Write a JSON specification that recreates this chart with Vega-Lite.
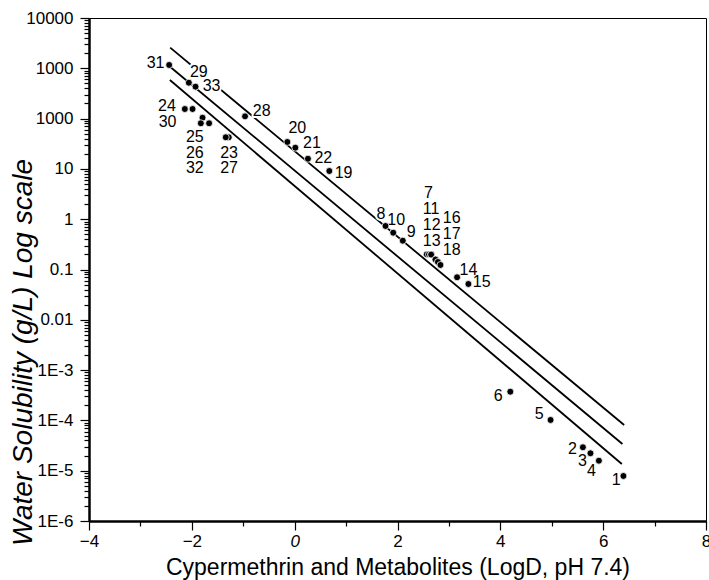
{
  "$schema": "https://vega.github.io/schema/vega-lite/v6.json",
  "width": 617,
  "height": 503,
  "autosize": {"type": "none"},
  "padding": {"left": 89, "top": 18, "right": 3, "bottom": 59},
  "background": "white",
  "config": {
    "view": {"stroke": "black", "strokeWidth": 1},
    "font": "Liberation Sans",
    "axis": {"grid": false}
  },
  "datasets": {
    "lines": [
      {"band": "upper", "x": -2.421, "y": 2570},
      {"band": "upper", "x": 6.408, "y": 0.000081},
      {"band": "middle", "x": -2.447, "y": 1127},
      {"band": "middle", "x": 6.375, "y": 0.000034},
      {"band": "lower", "x": -2.427, "y": 585},
      {"band": "lower", "x": 6.363, "y": 0.0000136}
    ],
    "points": [
      {"id": "1", "x": 6.394, "y": 0.00000785},
      {"id": "2", "x": 5.606, "y": 0.0000292},
      {"id": "3", "x": 5.753, "y": 0.0000222},
      {"id": "4", "x": 5.917, "y": 0.0000158},
      {"id": "5", "x": 4.977, "y": 0.000102},
      {"id": "6", "x": 4.194, "y": 0.000372},
      {"id": "7", "x": 2.569, "y": 0.2},
      {"id": "11", "x": 2.612, "y": 0.2},
      {"id": "12", "x": 2.654, "y": 0.2},
      {"id": "13", "x": 2.654, "y": 0.198},
      {"id": "16", "x": 2.738, "y": 0.158},
      {"id": "17", "x": 2.786, "y": 0.141},
      {"id": "18", "x": 2.835, "y": 0.123},
      {"id": "8", "x": 1.767, "y": 0.733},
      {"id": "10", "x": 1.917, "y": 0.539},
      {"id": "9", "x": 2.103, "y": 0.374},
      {"id": "14", "x": 3.159, "y": 0.07},
      {"id": "15", "x": 3.379, "y": 0.0515},
      {"id": "19", "x": 0.674, "y": 9.08},
      {"id": "20", "x": -0.142, "y": 34.3},
      {"id": "21", "x": 0.013, "y": 26.4},
      {"id": "22", "x": 0.258, "y": 15.9},
      {"id": "27", "x": -1.282, "y": 42.5},
      {"id": "23", "x": -1.34, "y": 42.5},
      {"id": "24", "x": -2.136, "y": 155},
      {"id": "30", "x": -1.986, "y": 155},
      {"id": "25", "x": -1.792, "y": 104},
      {"id": "26", "x": -1.825, "y": 80.7},
      {"id": "32", "x": -1.664, "y": 80.7},
      {"id": "28", "x": -0.965, "y": 111},
      {"id": "29", "x": -2.058, "y": 517},
      {"id": "33", "x": -1.928, "y": 431},
      {"id": "31", "x": -2.441, "y": 1164}
    ],
    "labels": [
      {"id": "31", "lx": -2.705, "ly": 1291},
      {"id": "29", "lx": -1.864, "ly": 855},
      {"id": "33", "lx": -1.617, "ly": 451},
      {"id": "24", "lx": -2.485, "ly": 178},
      {"id": "30", "lx": -2.472, "ly": 86.7},
      {"id": "25", "lx": -1.942, "ly": 43.7},
      {"id": "26", "lx": -1.942, "ly": 21.0},
      {"id": "32", "lx": -1.942, "ly": 10.6},
      {"id": "23", "lx": -1.276, "ly": 21.0},
      {"id": "27", "lx": -1.276, "ly": 10.6},
      {"id": "28", "lx": -0.641, "ly": 141.6},
      {"id": "20", "lx": 0.052, "ly": 65.9},
      {"id": "21", "lx": 0.336, "ly": 33.2},
      {"id": "22", "lx": 0.557, "ly": 16.7},
      {"id": "19", "lx": 0.951, "ly": 8.4},
      {"id": "7", "lx": 2.602, "ly": 3.37},
      {"id": "11", "lx": 2.654, "ly": 1.57},
      {"id": "12", "lx": 2.666, "ly": 0.767},
      {"id": "13", "lx": 2.666, "ly": 0.369},
      {"id": "16", "lx": 3.054, "ly": 1.06},
      {"id": "17", "lx": 3.054, "ly": 0.515},
      {"id": "18", "lx": 3.054, "ly": 0.248},
      {"id": "8", "lx": 1.676, "ly": 1.25},
      {"id": "10", "lx": 1.975, "ly": 0.964},
      {"id": "9", "lx": 2.266, "ly": 0.564},
      {"id": "14", "lx": 3.379, "ly": 0.0977},
      {"id": "15", "lx": 3.637, "ly": 0.0557},
      {"id": "6", "lx": 3.961, "ly": 0.000305},
      {"id": "5", "lx": 4.757, "ly": 0.000132},
      {"id": "2", "lx": 5.404, "ly": 0.000027},
      {"id": "3", "lx": 5.598, "ly": 0.0000158},
      {"id": "4", "lx": 5.773, "ly": 0.00001},
      {"id": "1", "lx": 6.252, "ly": 0.00000653}
    ]
  },
  "resolve": {"axis": {"x": "independent", "y": "independent"}},
  "layer": [
    {
      "data": {"name": "lines"},
      "mark": {"type": "line", "color": "black", "strokeWidth": 1.8},
      "encoding": {
        "x": {"field": "x", "type": "quantitative", "scale": {"domain": [-4, 8], "nice": false, "zero": false}, "axis": null},
        "y": {"field": "y", "type": "quantitative", "scale": {"type": "log", "domain": [0.000001, 10000], "nice": false}, "axis": null},
        "detail": {"field": "band", "type": "nominal"}
      }
    },
    {
      "data": {"name": "labels"},
      "mark": {"type": "text", "font": "Liberation Sans", "fontSize": 16, "align": "center", "baseline": "middle", "fill": "white", "stroke": "white", "strokeWidth": 4},
      "encoding": {
        "x": {"field": "lx", "type": "quantitative", "scale": {"domain": [-4, 8], "nice": false, "zero": false}, "axis": null},
        "y": {"field": "ly", "type": "quantitative", "scale": {"type": "log", "domain": [0.000001, 10000], "nice": false}, "axis": null},
        "text": {"field": "id", "type": "nominal"}
      }
    },
    {
      "data": {"name": "labels"},
      "mark": {"type": "text", "font": "Liberation Sans", "fontSize": 16, "align": "center", "baseline": "middle", "color": "black"},
      "encoding": {
        "x": {"field": "lx", "type": "quantitative", "scale": {"domain": [-4, 8], "nice": false, "zero": false}, "axis": null},
        "y": {"field": "ly", "type": "quantitative", "scale": {"type": "log", "domain": [0.000001, 10000], "nice": false}, "axis": null},
        "text": {"field": "id", "type": "nominal"}
      }
    },
    {
      "data": {"name": "points"},
      "mark": {"type": "circle", "size": 48, "fill": "black", "stroke": "white", "strokeWidth": 0.8, "opacity": 1},
      "encoding": {
        "x": {
          "field": "x", "type": "quantitative",
          "scale": {"domain": [-4, 8], "nice": false, "zero": false},
          "axis": {
            "orient": "bottom", "values": [-4, -3, -2, -1, 0, 1, 2, 3, 4, 5, 6, 7, 8],
            "labelExpr": "datum.value % 2 == 0 ? datum.label : ''",
            "labelFlush": false, "labelOverlap": false, "labelBound": false,
            "labelFont": "Liberation Sans", "labelFontSize": 17, "labelColor": "black", "labelPadding": 3,
            "labelFontStyle": {"condition": {"test": "datum.value == 0", "value": "italic"}, "value": "normal"},
            "tickSize": {"condition": {"test": "datum.value % 2 == 0", "value": 9}, "value": 5},
            "tickColor": "black", "tickWidth": 1.2,
            "domainColor": "black", "domainWidth": 2.5,
            "title": "Cypermethrin and Metabolites (LogD, pH 7.4)",
            "titleFont": "Liberation Sans", "titleFontSize": 23, "titleFontWeight": "normal", "titleColor": "black",
            "titleBaseline": "middle", "titleY": 46, "grid": false
          }
        },
        "y": {
          "field": "y", "type": "quantitative",
          "scale": {"type": "log", "domain": [0.000001, 10000], "nice": false},
          "axis": {
            "orient": "left",
            "values": [0.000001,0.000002,0.000003,0.000004,0.000005,0.000006,0.000007,0.000008,0.000009,0.00001,0.00002,0.00003,0.00004,0.00005,0.00006,0.00007,0.00008,0.00009,0.0001,0.0002,0.0003,0.0004,0.0005,0.0006,0.0007,0.0008,0.0009,0.001,0.002,0.003,0.004,0.005,0.006,0.007,0.008,0.009,0.01,0.02,0.03,0.04,0.05,0.06,0.07,0.08,0.09,0.1,0.2,0.3,0.4,0.5,0.6,0.7,0.8,0.9,1,2,3,4,5,6,7,8,9,10,20,30,40,50,60,70,80,90,100,200,300,400,500,600,700,800,900,1000,2000,3000,4000,5000,6000,7000,8000,9000,10000],
            "labelExpr": "abs(log(datum.value) / LN10 - round(log(datum.value) / LN10)) > 0.001 ? '' : (datum.value >= 0.01 ? (abs(datum.value - 100) < 1 ? '1000' : format(datum.value, '~g')) : '1E' + round(log(datum.value) / LN10))",
            "labelOverlap": false, "labelBound": false, "labelFlush": false,
            "labelFont": "Liberation Sans", "labelFontSize": 17, "labelColor": "black", "labelPadding": 7,
            "tickSize": {"condition": {"test": "abs(log(datum.value) / LN10 - round(log(datum.value) / LN10)) < 0.001", "value": 9}, "value": 5},
            "tickColor": "black", "tickWidth": 1.2,
            "domainColor": "black", "domainWidth": 2.5,
            "title": "Water Solubility (g/L) Log scale",
            "titleFont": "Liberation Sans", "titleFontSize": 28, "titleFontStyle": "italic", "titleFontWeight": "normal", "titleColor": "black",
            "titleAlign": "center", "titleBaseline": "middle", "titleAngle": -90,
            "titleX": -66, "titleY": 334, "grid": false
          }
        }
      }
    }
  ]
}
